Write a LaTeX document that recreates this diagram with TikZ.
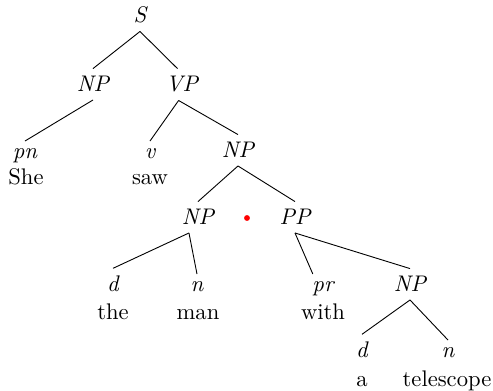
\documentclass[tikz,border=0pt]{standalone}
\begin{document}
\begin{tikzpicture}[x=0.4425pt,y=-0.4425pt,
  cat/.style={anchor=base,inner sep=0.3333em,font=\itshape},
  word/.style={anchor=base,inner sep=0pt},
  branch/.style={line width=0.4pt}]
\useasboundingbox (0,0) rectangle (493,391);

% categories
\node[cat] (s)   at (140,23)  {S};
\node[cat] (np1) at (93,92)   {NP};
\node[cat] (vp)  at (182,92)  {VP};
\node[cat] (pn)  at (25,159)  {pn};
\node[cat] (v)   at (150,159) {v};
\node[cat] (np2) at (238,158) {NP};
\node[cat] (np3) at (198,225) {NP};
\node[cat] (pp)  at (295,225) {PP};
\node[cat] (d1)  at (113,292) {d};
\node[cat] (n1)  at (197,292) {n};
\node[cat] (pr)  at (323,292) {pr};
\node[cat] (np4) at (410,292) {NP};
\node[cat] (d2)  at (362,358) {d};
\node[cat] (n2)  at (448,358) {n};

% words
\node[word] (w1) at (26,185)  {She};
\node[word] (w2) at (150,185) {saw};
\node[word] (w3) at (113,320) {the};
\node[word] (w4) at (198,320) {man};
\node[word] (w5) at (323,320) {with};
\node[word] (w6) at (362,387) {a};
\node[word] (w7) at (447,387) {telescope};

% marker
\node[circle,fill=red,inner sep=0pt,minimum size=2.6pt] (dot) at (247,218) {};

% branches
\draw[branch] (s.south) -- (np1.north);
\draw[branch] (s.south) -- ([xshift=-2pt]vp.north);
\draw[branch] (np1.south) -- (pn.north);
\draw[branch] ([xshift=-1.5pt]vp.south) -- (v.north);
\draw[branch] ([xshift=-1.5pt]vp.south) -- (np2.north);
\draw[branch] (np2.south) -- (np3.north);
\draw[branch] (np2.south) -- (pp.north);
\draw[branch] ([xshift=-4pt]np3.south) -- (d1.north);
\draw[branch] ([xshift=-4pt]np3.south) -- (n1.north);
\draw[branch] (pp.south) -- ([xshift=-4.5pt]pr.north);
\draw[branch] (pp.south) -- (np4.north);
\draw[branch] (np4.south) -- (d2.north);
\draw[branch] (np4.south) -- (n2.north);
\end{tikzpicture}
\end{document}
